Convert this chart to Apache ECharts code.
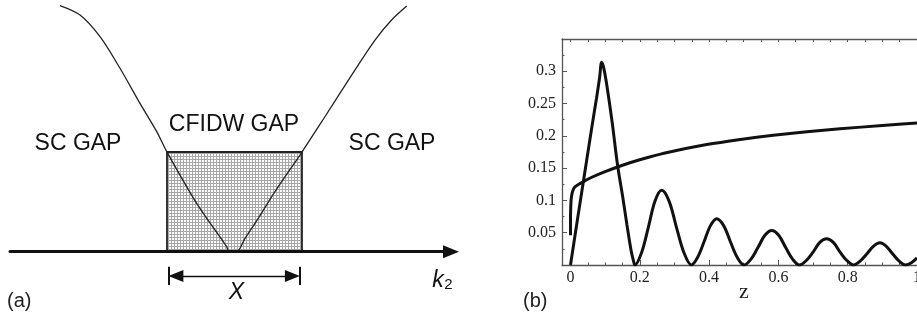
<!DOCTYPE html>
<html>
<head>
<meta charset="utf-8">
<script src="https://cdn.jsdelivr.net/npm/echarts@6/dist/echarts.min.js"></script>
<style>
  html, body { margin: 0; padding: 0; background: #fff; }
  #chart { width: 917px; height: 320px; }
</style>
</head>
<body>
<div id="chart"></div>
<script>
// ---------- Panel (a): schematic gap curve (k2 in units of X, gap in units of rectangle height) ----------
const curveK   = [-1.293, -1.144, -0.996, -0.848, -0.700, -0.576, -0.500, -0.280, -0.058, -0.039, 0.016, 0.078, 0.176, 0.300, 0.500, 0.670, 0.868, 1.041, 1.164, 1.276];
const curveGap = [ 2.469,  2.374,  2.157,  1.840,  1.488,  1.204,  1.000,  0.485,  0.050,  0.000, 0.000, 0.134, 0.335, 0.602, 1.000, 1.354, 1.772, 2.123, 2.324, 2.464];
// CFIDW gap window (width X, height = gap at its edges)
const rectK   = [-0.5, -0.5, 0.5, 0.5];
const rectGap = [0, 1, 1, 0];

// ---------- Panel (b) ----------
const oscZ = [0, 0.02, 0.04, 0.06, 0.075, 0.084, 0.09, 0.096, 0.105, 0.12, 0.136, 0.15, 0.163, 0.175, 0.182, 0.186,
              0.205, 0.2245, 0.244, 0.263, 0.2845, 0.306, 0.3275, 0.349,
              0.367, 0.3855, 0.404, 0.422, 0.442, 0.4615, 0.481, 0.501,
              0.521, 0.541, 0.561, 0.581, 0.601, 0.621, 0.641, 0.661,
              0.6805, 0.700, 0.7195, 0.739, 0.7585, 0.778, 0.7975, 0.817,
              0.836, 0.855, 0.874, 0.893, 0.9115, 0.930, 0.9485, 0.967,
              0.985, 1.0];
const oscV = [0, 0.07, 0.139, 0.208, 0.258, 0.29, 0.314, 0.305, 0.278, 0.222, 0.154, 0.108, 0.062, 0.022, 0.006, 0,
              0.019, 0.058, 0.099, 0.1156, 0.099, 0.058, 0.019, 0,
              0.012, 0.036, 0.061, 0.0717, 0.061, 0.036, 0.012, 0,
              0.009, 0.027, 0.046, 0.0536, 0.046, 0.027, 0.009, 0,
              0.007, 0.020, 0.035, 0.0407, 0.035, 0.020, 0.007, 0,
              0.006, 0.017, 0.029, 0.0345, 0.029, 0.017, 0.006, 0,
              0.004, 0.011];
const logZ = [0, 0, 0.0008, 0.002, 0.005, 0.009, 0.013, 0.025, 0.04, 0.06, 0.1, 0.15, 0.2, 0.273, 0.393, 0.49, 0.585, 0.682, 0.778, 0.9, 1.0];
const logV = [0.046, 0.07, 0.09, 0.102, 0.112, 0.118, 0.121, 0.1255, 0.130, 0.1355, 0.1445, 0.1545, 0.163, 0.1735, 0.1865, 0.1945, 0.201, 0.2065, 0.211, 0.216, 0.220];

const xTickLabels = [0, 0.2, 0.4, 0.6, 0.8, 1];
const xMinorTicks = [0, 0.05, 0.1, 0.15, 0.2, 0.25, 0.3, 0.35, 0.4, 0.45, 0.5, 0.55, 0.6, 0.65, 0.7, 0.75, 0.8, 0.85, 0.9, 0.95, 1];

const zip = (a, b) => a.map((v, i) => [v, b[i]]);

// hatch pattern for the CFIDW window
const pat = document.createElement('canvas');
pat.width = 3; pat.height = 3;
const pc = pat.getContext('2d');
pc.fillStyle = '#ffffff'; pc.fillRect(0, 0, 3, 3);
pc.fillStyle = '#a6a6a6';
pc.fillRect(0, 0, 3, 1);
pc.fillRect(0, 0, 1, 3);

const SERIF = "'Liberation Serif', 'DejaVu Serif', serif";
const SANS = "'Liberation Sans', Arial, sans-serif";
const FRAME = '#555';

const chart = echarts.init(document.getElementById('chart'), null, { renderer: 'canvas' });
chart.setOption({
  animation: false,
  backgroundColor: '#fff',
  grid: [
    { left: 10, right: 466, top: 0, bottom: 0, outerBoundsMode: 'none', containLabel: false },
    { left: 562, right: 0, top: 39, bottom: 55, outerBoundsMode: 'none', containLabel: false }
  ],
  xAxis: [
    { gridIndex: 0, type: 'value', min: -1.663, max: 1.604, z: 5,
      axisLine: { onZero: true, symbol: ['none', 'triangle'], symbolSize: [13, 16],
                  lineStyle: { color: '#111', width: 3 } },
      axisTick: { show: false }, axisLabel: { show: false }, splitLine: { show: false } },
    { gridIndex: 1, type: 'value', min: -0.0245, max: 1.0, position: 'bottom',
      axisLine: { onZero: false, lineStyle: { color: FRAME, width: 1.3 } },
      axisTick: { inside: true, length: 5, customValues: xTickLabels, lineStyle: { color: FRAME } },
      axisLabel: { customValues: xTickLabels, fontFamily: SERIF, fontSize: 16, color: '#222', margin: 5, hideOverlap: false },
      splitLine: { show: false },
      name: 'z', nameLocation: 'middle', nameGap: 16, nameMoveOverlap: false,
      nameTextStyle: { fontFamily: SERIF, fontSize: 22, color: '#222', padding: [0, 0, 0, 9] } },
    { gridIndex: 1, type: 'value', min: -0.0245, max: 1.0, position: 'bottom',
      axisLine: { show: false, onZero: false },
      axisTick: { inside: true, length: 2.5, customValues: xMinorTicks, lineStyle: { color: FRAME } },
      axisLabel: { show: false }, splitLine: { show: false } },
    { gridIndex: 1, type: 'value', min: -0.0245, max: 1.0, position: 'top',
      axisLine: { onZero: false, lineStyle: { color: FRAME, width: 1.3 } },
      axisTick: { inside: true, length: 3, customValues: xMinorTicks, lineStyle: { color: FRAME } },
      axisLabel: { show: false }, splitLine: { show: false } }
  ],
  yAxis: [
    { gridIndex: 0, type: 'value', min: -0.685, max: 2.525, show: false },
    { gridIndex: 1, type: 'value', min: 0, max: 0.35, interval: 0.05,
      axisLine: { show: true, onZero: false, lineStyle: { color: FRAME, width: 1.3 } },
      axisTick: { show: true, inside: true, length: 5, lineStyle: { color: FRAME } },
      minorTick: { show: true, splitNumber: 2, length: 2.5, lineStyle: { color: FRAME } },
      axisLabel: { fontFamily: SERIF, fontSize: 16, color: '#222', margin: 6, showMinLabel: false, showMaxLabel: false },
      splitLine: { show: false } }
  ],
  series: [
    { type: 'line', xAxisIndex: 0, yAxisIndex: 0, z: 1, symbol: 'none',
      data: zip(rectK, rectGap),
      lineStyle: { color: '#222', width: 1.8 },
      areaStyle: { color: { image: pat, repeat: 'repeat' }, opacity: 1 },
      markLine: {
        silent: true, animation: false,
        label: { show: false },
        lineStyle: { color: '#111', width: 1.3, type: 'solid' },
        symbolSize: [12, 15],
        data: [
          [{ coord: [-0.434, -0.244], symbol: 'triangle' }, { coord: [0.429, -0.244], symbol: 'triangle' }],
          [{ coord: [-0.49, -0.15], symbol: 'none', lineStyle: { width: 2 } }, { coord: [-0.49, -0.335], symbol: 'none' }],
          [{ coord: [0.485, -0.15], symbol: 'none', lineStyle: { width: 2 } }, { coord: [0.485, -0.335], symbol: 'none' }]
        ]
      } },
    { type: 'line', xAxisIndex: 0, yAxisIndex: 0, z: 3, symbol: 'none', smooth: 0.3,
      data: zip(curveK, curveGap),
      lineStyle: { color: '#222', width: 1.3 } },
    { type: 'line', xAxisIndex: 1, yAxisIndex: 1, z: 3, symbol: 'none', smooth: 0.35,
      data: zip(oscZ, oscV),
      lineStyle: { color: '#111', width: 3 } },
    { type: 'line', xAxisIndex: 1, yAxisIndex: 1, z: 3, symbol: 'none', smooth: 0.2,
      data: zip(logZ, logV),
      lineStyle: { color: '#111', width: 3 } }
  ],
  graphic: [
    { type: 'text', x: 78, y: 144, style: { text: 'SC GAP', font: '23px ' + SANS, fill: '#111', align: 'center', verticalAlign: 'middle' } },
    { type: 'text', x: 234, y: 125, style: { text: 'CFIDW GAP', font: '23px ' + SANS, fill: '#111', align: 'center', verticalAlign: 'middle' } },
    { type: 'text', x: 392, y: 144, style: { text: 'SC GAP', font: '23px ' + SANS, fill: '#111', align: 'center', verticalAlign: 'middle' } },
    { type: 'text', x: 236.5, y: 293, style: { text: 'X', font: 'italic 23px ' + SANS, fill: '#111', align: 'center', verticalAlign: 'middle' } },
    { type: 'text', x: 438, y: 280.5, style: { text: 'k', font: 'italic 23px ' + SANS, fill: '#111', align: 'center', verticalAlign: 'middle' } },
    { type: 'text', x: 448.5, y: 285, style: { text: '2', font: '15px ' + SANS, fill: '#111', align: 'center', verticalAlign: 'middle' } },
    { type: 'text', x: 7, y: 301, style: { text: '(a)', font: '20px ' + SANS, fill: '#222', align: 'left', verticalAlign: 'middle' } },
    { type: 'text', x: 523, y: 301, style: { text: '(b)', font: '20px ' + SANS, fill: '#222', align: 'left', verticalAlign: 'middle' } }
  ]
});
</script>
</body>
</html>
